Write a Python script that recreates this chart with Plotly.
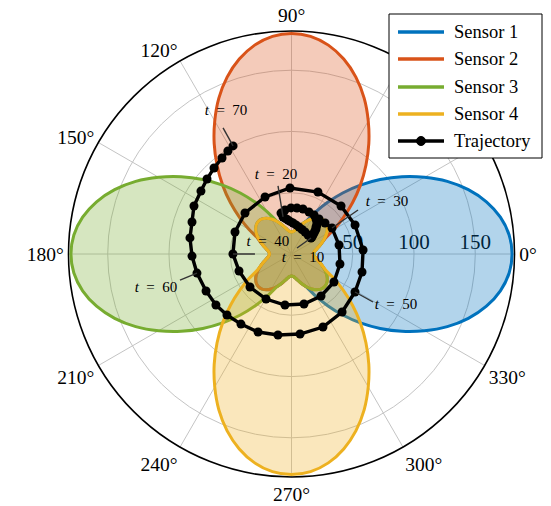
import math
import plotly.graph_objects as go

# ---------------- data ----------------
SENSOR_NAMES = ["Sensor 1", "Sensor 2", "Sensor 3", "Sensor 4"]
SENSOR_BORESIGHT = [0, 90, 180, 270]          # degrees
PATTERN_DELTA = list(range(0, 360, 5))        # offset from boresight, degrees
PATTERN_GAIN = [180.0, 178.3, 173.1, 164.7, 153.6, 140.3, 125.3, 110.0, 94.5, 79.5,
                65.0, 51.5, 40.0, 30.5, 26.3, 23.0, 20.3, 18.6, 18.0, 18.6,
                20.3, 23.0, 26.3, 29.7, 33.0, 35.7, 37.4, 38.0, 37.4, 35.7,
                33.0, 29.7, 26.3, 23.0, 20.3, 18.6, 18.0, 18.6, 20.3, 23.0,
                26.3, 29.7, 33.0, 35.7, 37.4, 38.0, 37.4, 35.7, 33.0, 29.7,
                26.3, 23.0, 20.3, 18.6, 18.0, 18.6, 20.3, 23.0, 26.3, 30.5,
                40.0, 51.5, 65.0, 79.5, 94.5, 110.0, 125.3, 140.3, 153.6, 164.7,
                173.1, 178.3]

TRAJ_T = list(range(0, 71))
TRAJ_R = [34.9, 34.0, 32.8, 31.5, 29.8, 28.6, 26.8, 25.1, 23.4, 21.7, 20.6,
          20.5, 21.1, 21.8, 22.9, 24.0, 25.3, 26.6, 27.9, 29.4, 31.0,
          34.5, 36.3, 37.6, 37.8, 37.9, 37.1, 36.8, 36.3, 37.3, 39.3,
          39.5, 40.4, 41.5, 41.9, 42.1, 42.0, 42.2, 43.3, 45.0, 47.8,
          49.5, 50.6, 51.3, 53.9, 55.0, 56.3, 57.0, 58.5, 59.4, 60.4,
          62.8, 64.9, 65.7, 67.0, 69.3, 70.5, 72.5, 74.4, 76.0, 78.7,
          81.2, 83.9, 85.3, 88.7, 90.0, 92.2, 94.5, 96.7, 98.8, 100.3]
TRAJ_THETA = [55.0, 52.3, 50.6, 48.7, 47.8, 45.6, 44.4, 43.0, 41.5, 39.7, 39.4,
              49.0, 58.5, 66.8, 74.5, 81.2, 87.2, 92.6, 95.9, 99.6, 102.9,
              104.4, 98.4, 90.6, 83.2, 75.7, 67.4, 60.0, 51.8, 42.8, 32.7,
              10.7, 348.3, 326.6, 305.1, 284.0, 262.7, 240.5, 218.5, 197.9, 180.0,
              158.7, 138.6, 114.9, 91.3, 66.9, 44.1, 24.5, 3.2, 345.7, 329.1,
              311.1, 293.3, 276.1, 260.5, 246.8, 234.2, 223.4, 214.0, 203.4, 191.4,
              181.2, 171.0, 162.2, 153.8, 145.2, 138.4, 132.0, 125.9, 121.7, 118.4]

LABEL_TIMES = [10, 20, 30, 40, 50, 60, 70]

RADIAL_TICKS = [50, 100, 150]
ANGLE_TICKS = list(range(0, 360, 30))
# 30° and 60° labels sit underneath the legend box in the reference;
# 90° is drawn as an annotation so it is not clipped at the top edge
ANGLE_TICKTEXT = ["0°", "", "", "", "120°", "150°", "180°",
                  "210°", "240°", "270°", "300°", "330°"]
TOP_TICK_TEXT = "90°"

# ---------------- style / layout ----------------
OFF = 8                      # browser body margin
W, H = 551 - OFF, 506 - OFF
CX, CY, RAD = 291.5 - OFF, 254.0 - OFF, 223.0
RMAX = 182.0
PX = RAD / RMAX
SERIF = "Liberation Serif"
COLORS = ["#0072BD", "#D95319", "#77AC30", "#EDB120"]
FILL_ALPHA = 0.3
TICK_SIZE = 19.5
# (line end offset px, label centre offset px) relative to the labelled point, screen coords
LABEL_OFFSETS = {10: ((-14, 10), (-8, 20)),
                 20: ((-5, -31), (-7, -42)),
                 30: ((26, -18), (55, -26)),
                 40: ((22, 0), (35, -12)),
                 50: ((18, 10), (41, 13)),
                 60: ((-17, 7), (-41, 15)),
                 70: ((-10, -18), (-7, -35))}

# custom legend geometry (window pixels)
LEG_BOX = (389, 14, 542, 158)
LEG_ROWS = [32, 59, 87, 114, 141]
LEG_LINE_X = (398, 444)
LEG_TEXT_X = 452


def hex_rgba(h, a):
    h = h.lstrip("#")
    return f"rgba({int(h[0:2],16)},{int(h[2:4],16)},{int(h[4:6],16)},{a})"


def shift(r, th, dxp, dyp):
    x = r * math.cos(math.radians(th)) + dxp / PX
    y = r * math.sin(math.radians(th)) - dyp / PX
    return math.hypot(x, y), math.degrees(math.atan2(y, x))


def px(x):
    return (x - OFF) / W


def py(y):
    return 1 - (y - OFF) / H


fig = go.Figure()

for name, b, col in zip(SENSOR_NAMES, SENSOR_BORESIGHT, COLORS):
    th = [b + d for d in PATTERN_DELTA] + [b]
    rr = PATTERN_GAIN + [PATTERN_GAIN[0]]
    fig.add_trace(go.Scatterpolar(
        r=rr, theta=th, mode="lines", name=name, fill="toself",
        fillcolor=hex_rgba(col, FILL_ALPHA),
        line=dict(color=col, width=3, shape="spline", smoothing=0.8),
        hoverinfo="skip", showlegend=False))

fig.add_trace(go.Scatterpolar(
    r=TRAJ_R, theta=TRAJ_THETA, mode="lines+markers", name="Trajectory",
    line=dict(color="black", width=3.4),
    marker=dict(color="black", size=9), showlegend=False))

for t in LABEL_TIMES:
    i = TRAJ_T.index(t)
    r0, th0 = TRAJ_R[i], TRAJ_THETA[i]
    (lx, ly), (tx, ty) = LABEL_OFFSETS[t]
    r1, th1 = shift(r0, th0, lx, ly)
    r2, th2 = shift(r0, th0, tx, ty)
    fig.add_trace(go.Scatterpolar(
        r=[r0, r1], theta=[th0, th1], mode="lines", showlegend=False,
        line=dict(color="#333333", width=1.4), hoverinfo="skip"))
    fig.add_trace(go.Scatterpolar(
        r=[r2], theta=[th2], mode="text", showlegend=False,
        text=[f"<i>t</i>\u2002=\u2002{t}"], textposition="middle center",
        textfont=dict(family=SERIF, size=15, color="black"), hoverinfo="skip"))

# ---- custom legend ----
shapes = [dict(type="rect", xref="paper", yref="paper",
               x0=px(LEG_BOX[0]), x1=px(LEG_BOX[2]), y0=py(LEG_BOX[3]), y1=py(LEG_BOX[1]),
               line=dict(color="black", width=1), fillcolor="white", layer="above")]
annotations = []
leg_names = SENSOR_NAMES + ["Trajectory"]
leg_colors = COLORS + ["black"]
for yrow, nm, col in zip(LEG_ROWS, leg_names, leg_colors):
    shapes.append(dict(type="line", xref="paper", yref="paper",
                       x0=px(LEG_LINE_X[0]), x1=px(LEG_LINE_X[1]), y0=py(yrow), y1=py(yrow),
                       line=dict(color=col, width=3.5), layer="above"))
    annotations.append(dict(xref="paper", yref="paper", x=px(LEG_TEXT_X), y=py(yrow),
                            text=nm, showarrow=False, xanchor="left", yanchor="middle",
                            font=dict(family=SERIF, size=18.5, color="black")))
mx = (LEG_LINE_X[0] + LEG_LINE_X[1]) / 2
shapes.append(dict(type="circle", xref="paper", yref="paper",
                   x0=px(mx - 4.5), x1=px(mx + 4.5), y0=py(LEG_ROWS[-1] + 4.5), y1=py(LEG_ROWS[-1] - 4.5),
                   line=dict(color="black", width=1), fillcolor="black", layer="above"))

# 90° angular tick label
annotations.append(dict(xref="paper", yref="paper", x=px(CX + OFF), y=py(CY + OFF - RAD - 4),
                        text=TOP_TICK_TEXT, showarrow=False, xanchor="center", yanchor="bottom",
                        borderpad=0, font=dict(family=SERIF, size=TICK_SIZE, color="black")))

fig.update_layout(
    width=W, height=H, autosize=False,
    margin=dict(l=0, r=0, t=0, b=0),
    paper_bgcolor="white",
    showlegend=False,
    shapes=shapes, annotations=annotations,
    polar=dict(
        domain=dict(x=[(CX - RAD) / W, (CX + RAD) / W],
                    y=[1 - (CY + RAD) / H, 1 - (CY - RAD) / H]),
        bgcolor="white",
        radialaxis=dict(range=[0, RMAX], tickvals=RADIAL_TICKS, angle=0,
                        side="counterclockwise", showline=False, ticks="",
                        gridcolor="#c4c4c4", gridwidth=1, tickangle=0,
                        tickfont=dict(family=SERIF, size=21, color="black"),
                        layer="below traces"),
        angularaxis=dict(tickvals=ANGLE_TICKS, ticktext=ANGLE_TICKTEXT,
                         direction="counterclockwise", rotation=0,
                         showline=True, linecolor="black", linewidth=1.6,
                         gridcolor="#c4c4c4", gridwidth=1, ticks="",
                         tickfont=dict(family=SERIF, size=TICK_SIZE, color="black"),
                         layer="below traces"),
    ),
)

fig.write_html("out.html")
